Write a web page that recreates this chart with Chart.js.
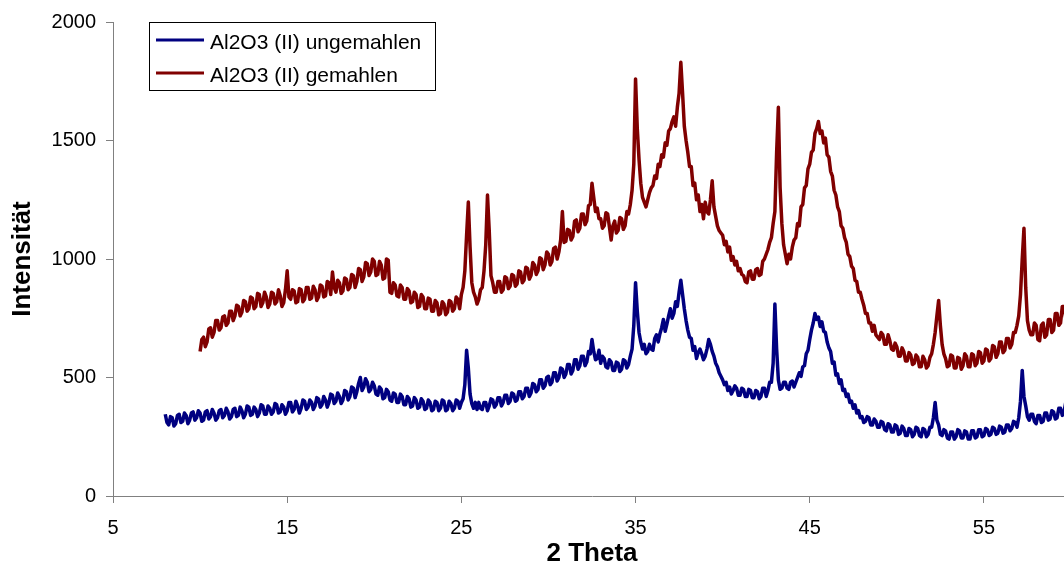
<!DOCTYPE html>
<html>
<head>
<meta charset="utf-8">
<script src="https://cdn.jsdelivr.net/npm/chart.js@4.4.1/dist/chart.umd.min.js"></script>
<style>
  html, body { margin: 0; padding: 0; background: #fff; overflow: hidden; }
  #wrap { width: 1064px; height: 567px; overflow: hidden; }
</style>
</head>
<body>
<div id="wrap"><canvas id="xrd" width="1090" height="567"></canvas></div>
<script>
// 2 Theta positions (degrees), one row per degree
const theta = [
  8, 8.1, 8.2, 8.3, 8.4, 8.5, 8.6, 8.7, 8.8, 8.9,
  9, 9.1, 9.2, 9.3, 9.4, 9.5, 9.6, 9.7, 9.8, 9.9,
  10, 10.1, 10.2, 10.3, 10.4, 10.5, 10.6, 10.7, 10.8, 10.9,
  11, 11.1, 11.2, 11.3, 11.4, 11.5, 11.6, 11.7, 11.8, 11.9,
  12, 12.1, 12.2, 12.3, 12.4, 12.5, 12.6, 12.7, 12.8, 12.9,
  13, 13.1, 13.2, 13.3, 13.4, 13.5, 13.6, 13.7, 13.8, 13.9,
  14, 14.1, 14.2, 14.3, 14.4, 14.5, 14.6, 14.7, 14.8, 14.9,
  15, 15.1, 15.2, 15.3, 15.4, 15.5, 15.6, 15.7, 15.8, 15.9,
  16, 16.1, 16.2, 16.3, 16.4, 16.5, 16.6, 16.7, 16.8, 16.9,
  17, 17.1, 17.2, 17.3, 17.4, 17.5, 17.6, 17.7, 17.8, 17.9,
  18, 18.1, 18.2, 18.3, 18.4, 18.5, 18.6, 18.7, 18.8, 18.9,
  19, 19.1, 19.2, 19.3, 19.4, 19.5, 19.6, 19.7, 19.8, 19.9,
  20, 20.1, 20.2, 20.3, 20.4, 20.5, 20.6, 20.7, 20.8, 20.9,
  21, 21.1, 21.2, 21.3, 21.4, 21.5, 21.6, 21.7, 21.8, 21.9,
  22, 22.1, 22.2, 22.3, 22.4, 22.5, 22.6, 22.7, 22.8, 22.9,
  23, 23.1, 23.2, 23.3, 23.4, 23.5, 23.6, 23.7, 23.8, 23.9,
  24, 24.1, 24.2, 24.3, 24.4, 24.5, 24.6, 24.7, 24.8, 24.9,
  25, 25.1, 25.2, 25.3, 25.4, 25.5, 25.6, 25.7, 25.8, 25.9,
  26, 26.1, 26.2, 26.3, 26.4, 26.5, 26.6, 26.7, 26.8, 26.9,
  27, 27.1, 27.2, 27.3, 27.4, 27.5, 27.6, 27.7, 27.8, 27.9,
  28, 28.1, 28.2, 28.3, 28.4, 28.5, 28.6, 28.7, 28.8, 28.9,
  29, 29.1, 29.2, 29.3, 29.4, 29.5, 29.6, 29.7, 29.8, 29.9,
  30, 30.1, 30.2, 30.3, 30.4, 30.5, 30.6, 30.7, 30.8, 30.9,
  31, 31.1, 31.2, 31.3, 31.4, 31.5, 31.6, 31.7, 31.8, 31.9,
  32, 32.1, 32.2, 32.3, 32.4, 32.5, 32.6, 32.7, 32.8, 32.9,
  33, 33.1, 33.2, 33.3, 33.4, 33.5, 33.6, 33.7, 33.8, 33.9,
  34, 34.1, 34.2, 34.3, 34.4, 34.5, 34.6, 34.7, 34.8, 34.9,
  35, 35.1, 35.2, 35.3, 35.4, 35.5, 35.6, 35.7, 35.8, 35.9,
  36, 36.1, 36.2, 36.3, 36.4, 36.5, 36.6, 36.7, 36.8, 36.9,
  37, 37.1, 37.2, 37.3, 37.4, 37.5, 37.6, 37.7, 37.8, 37.9,
  38, 38.1, 38.2, 38.3, 38.4, 38.5, 38.6, 38.7, 38.8, 38.9,
  39, 39.1, 39.2, 39.3, 39.4, 39.5, 39.6, 39.7, 39.8, 39.9,
  40, 40.1, 40.2, 40.3, 40.4, 40.5, 40.6, 40.7, 40.8, 40.9,
  41, 41.1, 41.2, 41.3, 41.4, 41.5, 41.6, 41.7, 41.8, 41.9,
  42, 42.1, 42.2, 42.3, 42.4, 42.5, 42.6, 42.7, 42.8, 42.9,
  43, 43.1, 43.2, 43.3, 43.4, 43.5, 43.6, 43.7, 43.8, 43.9,
  44, 44.1, 44.2, 44.3, 44.4, 44.5, 44.6, 44.7, 44.8, 44.9,
  45, 45.1, 45.2, 45.3, 45.4, 45.5, 45.6, 45.7, 45.8, 45.9,
  46, 46.1, 46.2, 46.3, 46.4, 46.5, 46.6, 46.7, 46.8, 46.9,
  47, 47.1, 47.2, 47.3, 47.4, 47.5, 47.6, 47.7, 47.8, 47.9,
  48, 48.1, 48.2, 48.3, 48.4, 48.5, 48.6, 48.7, 48.8, 48.9,
  49, 49.1, 49.2, 49.3, 49.4, 49.5, 49.6, 49.7, 49.8, 49.9,
  50, 50.1, 50.2, 50.3, 50.4, 50.5, 50.6, 50.7, 50.8, 50.9,
  51, 51.1, 51.2, 51.3, 51.4, 51.5, 51.6, 51.7, 51.8, 51.9,
  52, 52.1, 52.2, 52.3, 52.4, 52.5, 52.6, 52.7, 52.8, 52.9,
  53, 53.1, 53.2, 53.3, 53.4, 53.5, 53.6, 53.7, 53.8, 53.9,
  54, 54.1, 54.2, 54.3, 54.4, 54.5, 54.6, 54.7, 54.8, 54.9,
  55, 55.1, 55.2, 55.3, 55.4, 55.5, 55.6, 55.7, 55.8, 55.9,
  56, 56.1, 56.2, 56.3, 56.4, 56.5, 56.6, 56.7, 56.8, 56.9,
  57, 57.1, 57.2, 57.3, 57.4, 57.5, 57.6, 57.7, 57.8, 57.9,
  58, 58.1, 58.2, 58.3, 58.4, 58.5, 58.6, 58.7, 58.8, 58.9,
  59, 59.1, 59.2, 59.3, 59.4, 59.5, 59.6, 59.7, 59.8, 59.9,
  60
];

// Al2O3 (II) ungemahlen
const ungemahlen = [
  345, 310, 300, 335, 330, 295, 305, 340, 345, 310,
  315, 350, 340, 305, 320, 350, 355, 320, 330, 360,
  350, 315, 320, 355, 360, 325, 335, 365, 350, 320,
  330, 360, 365, 330, 340, 370, 355, 325, 335, 365,
  370, 335, 340, 375, 360, 330, 345, 380, 375, 340,
  345, 375, 365, 335, 350, 385, 380, 345, 345, 380,
  370, 345, 355, 390, 385, 350, 355, 385, 375, 345,
  360, 395, 395, 355, 365, 400, 380, 350, 370, 405,
  400, 365, 375, 405, 395, 365, 380, 415, 410, 375,
  385, 420, 405, 375, 395, 430, 425, 390, 400, 435,
  420, 390, 405, 445, 440, 405, 420, 460, 455, 415,
  440, 475, 500, 445, 460, 495, 480, 440, 450, 480,
  465, 430, 425, 460, 450, 410, 415, 450, 440, 405,
  400, 435, 430, 395, 395, 430, 420, 385, 385, 420,
  410, 375, 380, 415, 405, 370, 375, 410, 400, 365,
  370, 405, 395, 360, 365, 400, 395, 360, 370, 405,
  400, 360, 365, 400, 390, 360, 370, 405, 400, 370,
  395, 410, 470, 615, 540, 430, 390, 370, 395, 365,
  395, 370, 365, 395, 395, 360, 380, 410, 405, 375,
  385, 415, 415, 380, 395, 425, 425, 390, 400, 435,
  430, 400, 405, 440, 440, 410, 420, 455, 455, 420,
  435, 475, 470, 440, 450, 490, 490, 455, 465, 500,
  505, 470, 480, 520, 520, 485, 500, 540, 535, 500,
  515, 555, 555, 515, 530, 575, 575, 535, 550, 590,
  590, 550, 565, 610, 600, 660, 610, 575, 580, 615,
  560, 590, 580, 545, 540, 575, 565, 530, 530, 565,
  560, 525, 535, 575, 570, 540, 555, 590, 620, 720,
  900, 780, 690, 650, 620, 640, 600, 610, 640, 620,
  615, 665, 680, 650, 685, 710, 745, 695, 725, 760,
  790, 750, 770, 820, 800, 860, 910, 850, 790, 740,
  700, 670, 665, 615, 630, 580, 605, 620, 600, 575,
  590, 620, 660, 640, 610, 590, 560, 545, 520, 505,
  490, 470, 480, 445, 460, 430, 445, 465, 455, 425,
  425, 455, 450, 420, 420, 450, 445, 415, 415, 445,
  440, 410, 420, 455, 455, 420, 445, 480, 480, 560,
  810, 620, 490, 450, 455, 480, 480, 455, 450, 480,
  485, 460, 480, 500, 520, 505, 545, 550, 600, 615,
  660, 700, 730, 770, 745, 755, 715, 735, 695, 690,
  650, 625, 610, 560, 565, 510, 515, 475, 490, 445,
  450, 420, 430, 395, 400, 370, 385, 350, 360, 330,
  335, 310, 315, 335, 330, 300, 300, 325, 315, 290,
  290, 315, 310, 280, 275, 305, 300, 270, 270, 300,
  295, 260, 265, 295, 285, 255, 255, 285, 280, 250,
  260, 290, 285, 255, 250, 285, 280, 250, 260, 290,
  290, 330, 395, 320, 300, 260, 255, 280, 275, 245,
  240, 270, 270, 240, 250, 280, 275, 245, 245, 275,
  270, 240, 240, 275, 275, 245, 250, 280, 280, 250,
  255, 285, 280, 255, 260, 290, 285, 260, 265, 295,
  290, 265, 270, 300, 300, 275, 285, 315, 310, 290,
  330, 400, 530, 420, 380, 335, 320, 345, 345, 315,
  305, 340, 340, 310, 315, 350, 350, 320, 325, 360,
  355, 325, 330, 370, 370, 340, 355, 395, 395, 370,
  410
];

// Al2O3 (II) gemahlen (measured from 10 degrees on)
const gemahlen = [
  null, null, null, null, null, null, null, null, null, null,
  null, null, null, null, null, null, null, null, null, null,
  610, 660, 670, 630, 650, 705, 710, 670, 690, 740,
  740, 700, 710, 755, 760, 720, 730, 780, 780, 740,
  760, 805, 800, 760, 775, 825, 820, 780, 790, 840,
  835, 790, 800, 855, 850, 800, 815, 860, 840, 795,
  810, 860, 855, 810, 820, 870, 845, 800, 815, 870,
  950, 840, 830, 870, 865, 815, 820, 875, 870, 820,
  830, 880, 880, 830, 835, 885, 870, 825, 840, 890,
  885, 840, 845, 905, 900, 850, 945, 880, 860, 910,
  900, 855, 865, 920, 915, 870, 880, 935, 930, 880,
  905, 960, 955, 905, 925, 985, 980, 930, 945, 1000,
  990, 930, 935, 990, 975, 915, 920, 1000, 995, 860,
  855, 900, 890, 845, 840, 890, 880, 830, 830, 875,
  865, 815, 820, 860, 850, 795, 800, 850, 840, 790,
  790, 835, 830, 780, 780, 825, 815, 765, 770, 820,
  810, 765, 775, 825, 820, 780, 790, 840, 830, 790,
  850, 880, 950, 1100, 1240, 1050, 900, 860, 840, 810,
  830, 870, 880, 950, 1060, 1270, 1120, 930, 900, 860,
  860, 905, 905, 860, 870, 925, 920, 875, 885, 935,
  930, 885, 895, 950, 945, 900, 910, 965, 960, 915,
  930, 985, 975, 935, 950, 1005, 1000, 955, 975, 1030,
  1020, 975, 990, 1045, 1050, 1000, 1030, 1080, 1200, 1070,
  1075, 1125, 1120, 1080, 1095, 1160, 1165, 1115, 1130, 1190,
  1190, 1145, 1160, 1225, 1230, 1320, 1260, 1200, 1215, 1170,
  1170, 1130, 1140, 1195, 1190, 1135, 1080, 1140, 1160, 1110,
  1120, 1175, 1170, 1125, 1140, 1200, 1190, 1230, 1290, 1400,
  1760, 1550, 1420, 1320, 1260, 1240, 1220, 1250, 1280, 1300,
  1310, 1350, 1340, 1400, 1390, 1440, 1430, 1490, 1480, 1540,
  1550, 1580, 1600, 1560, 1640, 1700, 1830, 1700, 1560, 1500,
  1450, 1390, 1390, 1310, 1320, 1250, 1270, 1200, 1230, 1170,
  1240, 1200, 1190, 1250, 1330, 1220, 1180, 1140, 1120, 1110,
  1100, 1060, 1075, 1030, 1050, 995, 1010, 975, 990, 950,
  960, 935, 930, 905, 900, 945, 950, 915, 915, 955,
  960, 930, 935, 990, 1000, 1020, 1040, 1070, 1090, 1150,
  1200, 1450, 1640, 1300, 1150, 1060, 1020, 980, 1020, 1000,
  1050, 1080, 1090, 1150, 1140, 1220, 1230, 1300, 1310, 1380,
  1400, 1450, 1460, 1530, 1550, 1580, 1530, 1540, 1490, 1510,
  1440, 1430, 1370, 1350, 1290, 1270, 1220, 1200, 1140, 1130,
  1090, 1070, 1020, 1010, 970, 960, 910, 905, 860, 860,
  830, 805, 770, 770, 730, 730, 695, 720, 680, 670,
  660, 690, 680, 640, 640, 680, 655, 620, 615, 645,
  630, 590, 590, 625, 610, 570, 570, 605, 595, 555,
  560, 595, 585, 545, 545, 590, 575, 540, 550, 585,
  600, 640, 690, 760, 825, 720, 640, 600, 580, 545,
  550, 595, 590, 540, 540, 585, 580, 535, 550, 600,
  590, 545, 545, 600, 595, 550, 560, 610, 605, 560,
  570, 620, 615, 570, 580, 635, 630, 585, 600, 650,
  650, 605, 615, 665, 665, 625, 640, 690, 690, 720,
  760, 850, 1000, 1130, 880, 740, 700, 680, 680, 730,
  720, 660, 655, 720, 730, 670, 680, 745, 745, 690,
  700, 770, 770, 720, 730, 800, 800, 750, 770, 830,
  810
];

const xTicks = [5, 15, 25, 35, 45, 55];
const yTicks = [0, 500, 1000, 1500, 2000];

const toPoints = (ys) =>
  theta.map((t, i) => ({ x: t, y: ys[i] })).filter((p) => p.y !== null);

const axisGrey = "#808080";
const tickFont = { family: "'Liberation Sans', Arial, sans-serif", size: 20 };
const titleFont = { family: "'Liberation Sans', Arial, sans-serif", size: 26, weight: "bold", lineHeight: 1 };

// boxed legend in the top left corner of the plot
const legendBox = {
  id: "legendBox",
  afterDraw(chart) {
    const ctx = chart.ctx;
    const x = chart.chartArea.left + 36;
    const y = chart.chartArea.top;
    ctx.save();
    ctx.fillStyle = "#fff";
    ctx.fillRect(x + 0.5, y + 0.5, 286, 68);
    ctx.strokeStyle = "#000";
    ctx.lineWidth = 1;
    ctx.strokeRect(x + 0.5, y + 0.5, 286, 68);
    chart.data.datasets.forEach((ds, i) => {
      const ly = y + 18 + i * 33;
      ctx.strokeStyle = ds.borderColor;
      ctx.lineWidth = 3;
      ctx.beginPath();
      ctx.moveTo(x + 7, ly);
      ctx.lineTo(x + 55, ly);
      ctx.stroke();
      ctx.fillStyle = "#000";
      ctx.font = "21px 'Liberation Sans', Arial, sans-serif";
      ctx.textBaseline = "alphabetic";
      ctx.fillText(ds.label, x + 61, ly + 9);
    });
    ctx.restore();
  },
};

new Chart(document.getElementById("xrd"), {
  type: "line",
  data: {
    datasets: [
      {
        label: "Al2O3 (II) ungemahlen",
        data: toPoints(ungemahlen),
        borderColor: "#000080",
        backgroundColor: "#000080",
        borderWidth: 3.5,
        borderJoinStyle: "round",
        pointRadius: 0,
        tension: 0,
      },
      {
        label: "Al2O3 (II) gemahlen",
        data: toPoints(gemahlen),
        borderColor: "#800000",
        backgroundColor: "#800000",
        borderWidth: 3.5,
        borderJoinStyle: "round",
        pointRadius: 0,
        tension: 0,
      },
    ],
  },
  options: {
    responsive: false,
    animation: false,
    devicePixelRatio: 1,
    layout: { padding: { left: 0, top: 19, right: 19, bottom: 0 } },
    plugins: { legend: { display: false }, tooltip: { enabled: false } },
    scales: {
      x: {
        type: "linear",
        min: 5,
        max: 60,
        afterBuildTicks: (s) => { s.ticks = xTicks.map((v) => ({ value: v })); },
        afterFit: (s) => { s.height = 71; },
        border: { color: axisGrey, width: 1 },
        grid: { drawOnChartArea: false, tickLength: 7, color: axisGrey },
        ticks: { color: "#000", font: tickFont, padding: 13, maxRotation: 0, autoSkip: false, callback: (v) => String(v) },
        title: { display: true, text: "2 Theta", color: "#000", font: titleFont, padding: { top: 0, bottom: 0 } },
      },
      y: {
        min: 0,
        max: 2000,
        afterBuildTicks: (s) => { s.ticks = yTicks.map((v) => ({ value: v })); },
        afterFit: (s) => { s.width = 113; },
        border: { color: axisGrey, width: 1 },
        grid: { drawOnChartArea: false, tickLength: 7, color: axisGrey },
        ticks: { color: "#000", font: tickFont, padding: 10, callback: (v) => String(v) },
        title: { display: true, text: "Intensität", color: "#000", font: titleFont, padding: { top: 10, bottom: 0 } },
      },
    },
  },
  plugins: [legendBox],
});
</script>
</body>
</html>
